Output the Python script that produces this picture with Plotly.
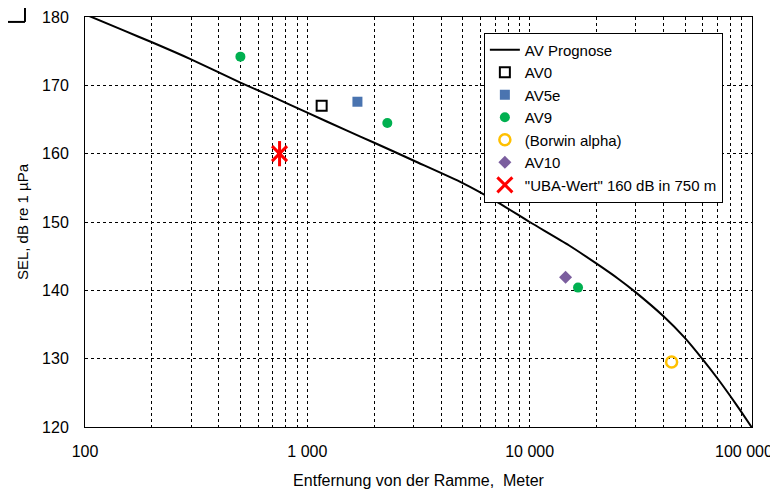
import math
import plotly.graph_objects as go

# AV Prognose curve
prog_x = [100, 150, 200, 300, 500, 700, 1000, 1500, 2000, 3000, 5000, 7000, 10000,
          15000, 20000, 25000, 30000, 40000, 50000, 60000, 70000, 80000, 90000, 100000]
prog_y = [180.4, 178.0, 176.3, 173.8, 170.4, 168.3, 166.0, 163.4, 161.6, 159.0,
          155.7, 153.1, 150.0, 146.6, 143.9, 141.7, 139.7, 136.2, 133.0, 129.9,
          127.1, 124.5, 122.1, 119.9]

av0_x, av0_y = [1160], [167.0]
av5e_x, av5e_y = [1680], [167.6]
av9_x, av9_y = [500, 2290, 16500], [174.2, 164.5, 140.4]
borwin_x, borwin_y = [43500], [129.5]
av10_x, av10_y = [14500], [141.9]
uba_x, uba_y = [750], [160.0]

tick_vals = [100, 1000, 10000, 100000]
tick_text = ["100", "1 000", "10 000", "100 000"]
y_ticks = [120, 130, 140, 150, 160, 170, 180]

FONT = "Liberation Sans, Arial, sans-serif"

fig = go.Figure()
fig.add_trace(go.Scatter(x=prog_x, y=prog_y, mode="lines", name="AV Prognose",
                         line=dict(color="black", width=2, shape="spline", smoothing=0.6)))
fig.add_trace(go.Scatter(x=av0_x, y=av0_y, mode="markers", name="AV0",
                         marker=dict(symbol="square-open", size=10, color="black",
                                     line=dict(width=2, color="black"))))
fig.add_trace(go.Scatter(x=av5e_x, y=av5e_y, mode="markers", name="AV5e",
                         marker=dict(symbol="square", size=10, color="#4A74B0")))
fig.add_trace(go.Scatter(x=av9_x, y=av9_y, mode="markers", name="AV9",
                         marker=dict(symbol="circle", size=10, color="#00B050")))
fig.add_trace(go.Scatter(x=borwin_x, y=borwin_y, mode="markers", name="(Borwin alpha)",
                         marker=dict(symbol="circle-open", size=11, color="#FFC000",
                                     line=dict(width=2.5, color="#FFC000"))))
fig.add_trace(go.Scatter(x=av10_x, y=av10_y, mode="markers", name="AV10",
                         marker=dict(symbol="diamond", size=10, color="#7B5E9E")))
fig.add_trace(go.Scatter(x=uba_x, y=uba_y, mode="markers", name="\"UBA-Wert\" 160 dB in 750 m",
                         marker=dict(symbol="x-thin-open", size=15, color="#FF0000",
                                     line=dict(width=3, color="#FF0000"))))
fig.add_trace(go.Scatter(x=uba_x, y=uba_y, mode="markers", showlegend=False,
                         marker=dict(symbol="line-ns-open", size=18, color="#FF0000",
                                     line=dict(width=3, color="#FF0000"))))

grid = dict(showgrid=True, gridcolor="black", gridwidth=1, griddash="dot")

# last tick label is shifted left so that it fits in the picture (as in the reference)
fig.update_xaxes(type="log", range=[2, 5], tickvals=tick_vals,
                 ticktext=tick_text[:-1] + [""],
                 showline=True, linecolor="black", linewidth=1, mirror=True,
                 ticks="", tickfont=dict(size=16, color="black"), ticklabelstandoff=10,
                 automargin=False,
                 title=dict(text="Entfernung von der Ramme,  Meter",
                            font=dict(size=16, color="black"), standoff=15),
                 minor=dict(showgrid=True, gridcolor="black", gridwidth=1, griddash="dot",
                            dtick="D1", ticks=""),
                 zeroline=False, **grid)
fig.add_annotation(x=math.log10(tick_vals[-1]), xref="x", y=0, yref="paper",
                   text=tick_text[-1], showarrow=False, xanchor="right", yanchor="middle",
                   xshift=23, yshift=-24, font=dict(size=16, color="black"))

fig.update_yaxes(range=[120, 180], tickvals=y_ticks,
                 showline=True, linecolor="black", linewidth=1, mirror=True,
                 ticks="", tickfont=dict(size=16, color="black"), ticklabelstandoff=12,
                 automargin=False,
                 title=dict(text="SEL, dB re 1 µPa", font=dict(size=15, color="black"),
                            standoff=9),
                 zeroline=False, **grid)

# partial frame in the top-left corner
fig.add_shape(type="line", xref="paper", yref="paper", x0=-0.12, x1=-0.09,
              y0=0.988, y1=0.988, line=dict(color="black", width=2))
fig.add_shape(type="line", xref="paper", yref="paper", x0=-0.09, x1=-0.09,
              y0=0.988, y1=1.03, line=dict(color="black", width=2))

fig.update_layout(
    width=770, height=484,
    margin=dict(l=77, r=26, t=9, b=65, autoexpand=False),
    paper_bgcolor="white", plot_bgcolor="white",
    font=dict(family=FONT, color="black"),
    legend=dict(x=0.598, y=0.962, xanchor="left", yanchor="top",
                bgcolor="white", bordercolor="black", borderwidth=1,
                font=dict(size=15, color="black"), tracegroupgap=0),
    showlegend=True,
)

fig.write_html("out.html")
